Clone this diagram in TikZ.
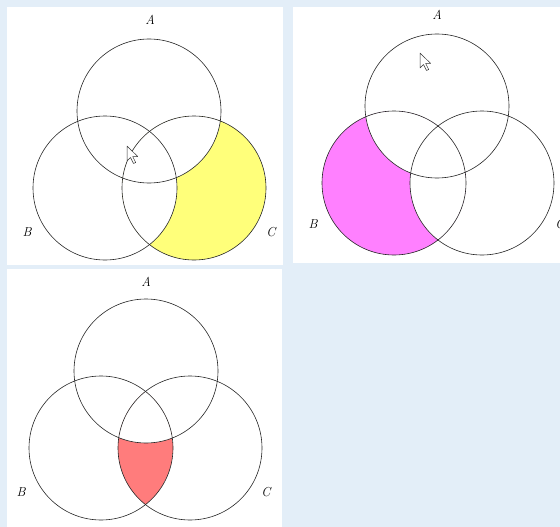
\documentclass[tikz,border=0pt]{standalone}
\definecolor{bgblue}{HTML}{E3EEF8}
\definecolor{vyellow}{HTML}{FFFF7A}
\definecolor{vmagenta}{HTML}{FF80FF}
\definecolor{vred}{HTML}{FF7C7C}
\begin{document}
\begin{tikzpicture}[x=1pt,y=-1pt,
  ring/.style={draw=black!85, line width=0.6pt},
  lbl/.style={font=\itshape\fontsize{13}{15}\selectfont, inner sep=0pt},
  panelbox/.style={fill=white},
  cursor/.style={fill=white, draw=black!80, line width=0.5pt, line join=round}]
\clip (0,0) rectangle (560,527);
\fill[bgblue] (0,0) rectangle (560,527);
\def\R{72pt}
% ---------- Panel 1 ----------
\fill[panelbox] (7,7) rectangle (283,265);
\coordinate (A1) at (149,111);
\coordinate (B1) at (105,188);
\coordinate (C1) at (194,188);
\begin{scope}
  \clip (C1) circle (\R);
  \fill[vyellow] (C1) circle (\R);
  \fill[white] (A1) circle (\R);
  \fill[white] (B1) circle (\R);
\end{scope}
\draw[ring] (A1) circle (\R);
\draw[ring] (B1) circle (\R);
\draw[ring] (C1) circle (\R);
\node[lbl] (lA1) at (150,20) {A};
\node[lbl] (lB1) at (27,232) {B};
\node[lbl] (lC1) at (271,232) {C};
\draw[cursor] (127,146) -- ++(0,15) -- ++(3.5,-3.5) -- ++(3,6) -- ++(2.2,-1) -- ++(-3,-6) -- ++(5,0) -- cycle;
% ---------- Panel 2 ----------
\fill[panelbox] (293,7) rectangle (560,263);
\coordinate (A2) at (437,106);
\coordinate (B2) at (394,183);
\coordinate (C2) at (482,183);
\begin{scope}
  \clip (B2) circle (\R);
  \fill[vmagenta] (B2) circle (\R);
  \fill[white] (A2) circle (\R);
  \fill[white] (C2) circle (\R);
\end{scope}
\draw[ring] (A2) circle (\R);
\draw[ring] (B2) circle (\R);
\draw[ring] (C2) circle (\R);
\node[lbl] (lA2) at (437,15) {A};
\node[lbl] (lB2) at (313,224) {B};
\node[lbl] (lC2) at (560,224) {C};
\draw[cursor] (420,53) -- ++(0,15) -- ++(3.5,-3.5) -- ++(3,6) -- ++(2.2,-1) -- ++(-3,-6) -- ++(5,0) -- cycle;
% ---------- Panel 3 ----------
\fill[panelbox] (7,269) rectangle (282,527);
\coordinate (A3) at (146,371);
\coordinate (B3) at (101,448);
\coordinate (C3) at (190,448);
\begin{scope}
  \clip (B3) circle (\R);
  \clip (C3) circle (\R);
  \fill[vred] (B3) circle (\R);
  \fill[white] (A3) circle (\R);
\end{scope}
\draw[ring] (A3) circle (\R);
\draw[ring] (B3) circle (\R);
\draw[ring] (C3) circle (\R);
\node[lbl] (lA3) at (146,282) {A};
\node[lbl] (lB3) at (21,492) {B};
\node[lbl] (lC3) at (266,492) {C};
\end{tikzpicture}
\end{document}
